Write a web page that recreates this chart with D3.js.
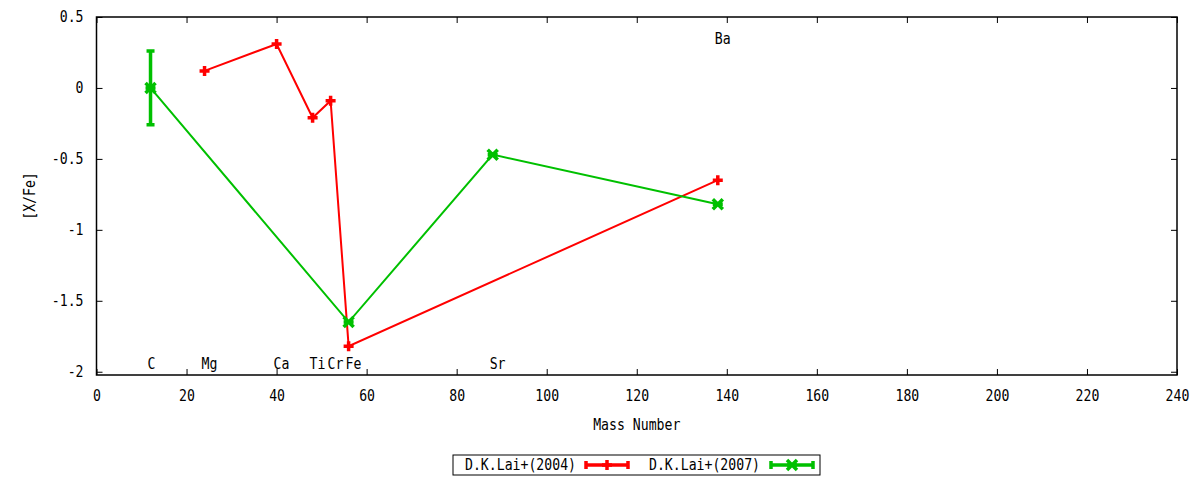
<!DOCTYPE html>
<html>
<head>
<meta charset="utf-8">
<script src="https://cdn.jsdelivr.net/npm/d3@7"></script>
<style>
  body { margin: 0; background: #fff; }
  text { font-family: "DejaVu Sans Mono", monospace; font-size: 15.5px; fill: #000; }
</style>
</head>
<body>
<div id="chart"></div>
<script>
// Lai et al. 2004 abundances
const laiMass04 = [24, 40, 48, 52, 56, 138];
const laiVal04 = [0.12, 0.31, -0.21, -0.09, -1.82, -0.65];

// Lai et al. 2007 abundances (with errors)
const laiMass07 = [12, 56, 88, 138];
const laiVal07 = [0.0, -1.65, -0.47, -0.82];
const laiErr07 = [0.26, 0, 0, 0];

// element labels: mass, y position
const elemNames = ["C", "Mg", "Ca", "Ti", "Cr", "Fe", "Sr", "Ba"];
const elemMass = [12, 24, 40, 48, 52, 56, 88, 138];
const elemY = [-1.94, -1.94, -1.94, -1.94, -1.94, -1.94, -1.94, 0.35];

const xTicks = d3.range(0, 241, 20);
const yTicks = [0.5, 0, -0.5, -1, -1.5, -2];

const width = 1200;
const height = 480;
const margin = { top: 17, right: 23, bottom: 105, left: 96.5 };

const svg = d3
  .select("#chart")
  .append("svg")
  .attr("width", width)
  .attr("height", height);

const x = d3
  .scaleLinear()
  .domain([0, 240])
  .range([margin.left, width - margin.right]);

const y = d3
  .scaleLinear()
  .domain([-2.023, 0.5])
  .range([height - margin.bottom, margin.top]);

const red = "#ff0000";
const green = "#00c000";

// Axes (ticks inside, mirrored)
const axisStyle = (g) => {
  g.select(".domain").remove();
  g.selectAll("line").attr("stroke", "#000");
};
svg.append("g")
  .attr("transform", `translate(0,${y.range()[0]})`)
  .call(d3.axisBottom(x).tickValues(xTicks).tickSize(-6).tickPadding(15).tickFormat(d3.format("d")))
  .call(axisStyle);
svg.append("g")
  .attr("transform", `translate(0,${y.range()[1]})`)
  .call(d3.axisTop(x).tickValues(xTicks).tickSize(-6).tickFormat(""))
  .call(axisStyle);
svg.append("g")
  .attr("transform", `translate(${x.range()[0]},0)`)
  .call(d3.axisLeft(y).tickValues(yTicks).tickSize(-6).tickPadding(13).tickFormat((d) => d3.format("")(d).replace("−", "-")))
  .call(axisStyle);
svg.append("g")
  .attr("transform", `translate(${x.range()[1]},0)`)
  .call(d3.axisRight(y).tickValues(yTicks).tickSize(-6).tickFormat(""))
  .call(axisStyle);
svg.selectAll(".tick text").style("font-family", "DejaVu Sans Mono").style("font-size", "15.5px");

svg.append("rect")
  .attr("x", x.range()[0])
  .attr("y", y.range()[1])
  .attr("width", x.range()[1] - x.range()[0])
  .attr("height", y.range()[0] - y.range()[1])
  .attr("fill", "none")
  .attr("stroke", "#000")
  .attr("stroke-width", 1.5);

// Axis titles
svg.append("text")
  .attr("x", (x.range()[0] + x.range()[1]) / 2)
  .attr("y", 430)
  .attr("text-anchor", "middle")
  .text("Mass Number");
svg.append("text")
  .attr("transform", `translate(35,${(y.range()[0] + y.range()[1]) / 2}) rotate(-90)`)
  .attr("text-anchor", "middle")
  .text("[X/Fe]");

// Element labels
svg.selectAll(".elem")
  .data(elemNames)
  .enter()
  .append("text")
  .attr("class", "elem")
  .attr("x", (d, i) => x(elemMass[i]) - 3)
  .attr("y", (d, i) => y(elemY[i]))
  .attr("dy", "0.35em")
  .text((d) => d);

const line = d3.line().x((d) => x(d[0])).y((d) => y(d[1]));

// 2004 series
const d04 = laiMass04.map((m, i) => [m, laiVal04[i]]);
svg.append("path")
  .attr("d", line(d04))
  .attr("fill", "none")
  .attr("stroke", red)
  .attr("stroke-width", 2);

const plus = (g, cx, cy, color) => {
  g.append("path")
    .attr("d", `M${cx - 5},${cy}H${cx + 5}M${cx},${cy - 5}V${cy + 5}`)
    .attr("stroke", color)
    .attr("stroke-width", 3.5);
};
const cross = (g, cx, cy, color) => {
  g.append("path")
    .attr("d", `M${cx - 5},${cy - 5}L${cx + 5},${cy + 5}M${cx - 5},${cy + 5}L${cx + 5},${cy - 5}M${cx - 5},${cy}H${cx + 5}`)
    .attr("stroke", color)
    .attr("stroke-width", 3.5);
};

const marks04 = svg.append("g");
d04.forEach((d) => plus(marks04, x(d[0]), y(d[1]), red));

// 2007 series
const d07 = laiMass07.map((m, i) => [m, laiVal07[i], laiErr07[i]]);
svg.append("path")
  .attr("d", line(d07))
  .attr("fill", "none")
  .attr("stroke", green)
  .attr("stroke-width", 2);

const marks07 = svg.append("g");
d07.forEach((d) => {
  const cx = x(d[0]);
  if (d[2] > 0) {
    const y1 = y(d[1] + d[2]);
    const y2 = y(d[1] - d[2]);
    marks07.append("path")
      .attr("d", `M${cx},${y1}V${y2}M${cx - 4},${y1}H${cx + 4}M${cx - 4},${y2}H${cx + 4}`)
      .attr("stroke", green)
      .attr("stroke-width", 3.5);
  }
  cross(marks07, cx, y(d[1]), green);
});

// Legend
const legend = svg.append("g");
legend.append("rect")
  .attr("x", 453)
  .attr("y", 455)
  .attr("width", 367)
  .attr("height", 20)
  .attr("fill", "none")
  .attr("stroke", "#000")
  .attr("stroke-width", 1);

const legendItems = [
  { label: "D.K.Lai+(2004)", color: red, tx: 576, lx: 586, mark: plus },
  { label: "D.K.Lai+(2007)", color: green, tx: 760, lx: 771, mark: cross },
];
legendItems.forEach((it) => {
  legend.append("text")
    .attr("x", it.tx)
    .attr("y", 465)
    .attr("dy", "0.35em")
    .attr("text-anchor", "end")
    .text(it.label);
  legend.append("path")
    .attr("d", `M${it.lx},465H${it.lx + 42}M${it.lx},461V469M${it.lx + 42},461V469`)
    .attr("stroke", it.color)
    .attr("stroke-width", 3.5);
  it.mark(legend, it.lx + 21, 465, it.color);
});

// Narrow the glyphs like the terminal font of the original
svg.selectAll("text").each(function () {
  const t = d3.select(this);
  const tx = +t.attr("x") || 0;
  const ty = +t.attr("y") || 0;
  const base = t.attr("transform") || "";
  t.attr("x", 0).attr("y", 0)
    .attr("transform", `${base} translate(${tx},${ty}) scale(0.85,1)`);
});
</script>
</body>
</html>
